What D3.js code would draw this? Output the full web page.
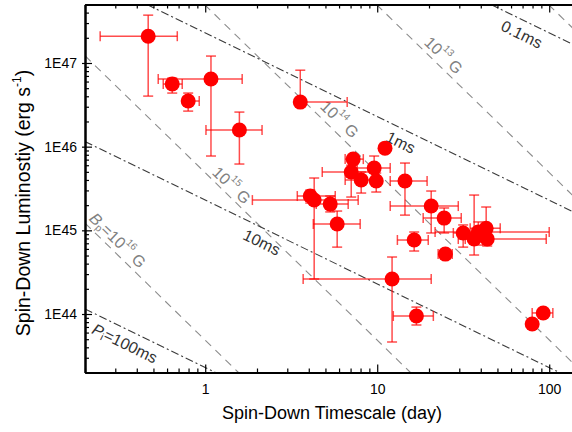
<!DOCTYPE html>
<html>
<head>
<meta charset="utf-8">
<script src="https://cdn.jsdelivr.net/npm/d3@7"></script>
<style>
body { margin: 0; background: #fff; }
svg { display: block; }
text { font-family: Arial, "Liberation Sans", sans-serif; }
</style>
</head>
<body>
<svg id="chart" width="572" height="432"></svg>
<script>
// spin-down timescale (day) with its error range
var timescale = [0.466, 0.643, 0.796, 1.08, 1.58, 3.57, 11.1, 7.25, 9.6, 7.06, 8.07, 9.87, 14.5, 4.08, 4.30,
	5.33, 5.85, 20.6, 24.5, 16.4, 24.9, 31.6, 36.6, 38.7, 43.0, 43.6, 12.2, 16.9, 79.6, 92.3];
var timeLow = [0.245, 0.570, 0.745, 0.533, 1.01, null, null, 6.51, 7.65, 4.79, 6.51, null, 11.9, 3.43, 1.88,
	4.42, 4.25, 11.9, 18.5, 13.1, 22.6, 27.7, 29.6, 21.7, 34.7, 32.5, 3.71, 12.4, null, 79.6];
var timeHigh = [0.688, 0.735, 0.923, 1.64, 2.14, 6.69, null, 8.3, 11.9, 10.1, 10.0, null, 19.5, 5.7, 7.75,
	6.78, 7.96, 29.6, 30.8, 19.8, 27.3, 35.7, 45.4, 100, 51.9, 96.1, 20.6, 21.2, null, 105];

// spin-down luminosity (erg/s) with its error range
var lum = [2.09e47, 5.6e46, 3.51e46, 6.43e46, 1.58e46, 3.41e46, 9.6e45, 7.1e45, 5.55e45, 4.98e45, 3.99e45, 3.88e45, 3.88e45, 2.57e45, 2.3e45,
	2.06e45, 1.19e45, 1.95e45, 1.40e45, 7.66e44, 5.2e44, 9.3e44, 7.87e44, 9.55e44, 1.06e45, 7.87e44, 2.62e44, 9.46e43, 7.6e43, 1.03e44];
var lumLow = [4.02e46, 4.37e46, 2.66e46, 7.73e45, 6.2e45, null, null, null, 4.1e45, 2.5e45, 2.79e45, 2.87e45, 1.52e45, 2.12e45, 2.62e44,
	1.66e45, 6.3e44, 9.3e44, 9.3e44, 5.66e44, null, 6.3e44, 5.07e44, 6.67e44, 7.66e44, 6.5e44, 4.63e43, 7.39e43, null, null];
var lumHigh = [3.73e47, 6.6e46, 4.37e46, 1.21e47, 2.59e46, 8.2e46, null, null, 7.73e45, 6.0e45, 4.98e45, 4.84e45, 6.37e45, 3.03e45, 4.22e45,
	2.57e45, 1.70e45, 2.95e45, 1.85e45, 9.55e44, null, 1.16e45, 2.64e45, 1.26e45, 1.9e45, 9.55e44, 4.8e44, 1.21e44, null, null];

var xTickValues = [1, 10, 100];
var xTickLabels = ['1', '10', '100'];
var yTickValues = [1e44, 1e45, 1e46, 1e47];
var yTickLabels = ['1E44', '1E45', '1E46', '1E47'];

// constant initial period lines (dash-dot), ends
var periodNames = ['0.1ms', '1ms', '10ms', '100ms'];
var periodT = [[45.8, 150], [0.458, 150], [0.2, 114.6], [0.2, 1.146]];
var periodL = [[5e47, 1.53e47], [5e47, 1.53e45], [1.15e46, 2e43], [1.15e44, 2e43]];

// constant field lines (dashed)
var fieldNames = ['1e12', '1e13', '1e14', '1e15', '1e16'];
var fieldT = [[99, 150], [9.9, 150], [0.99, 150], [0.2, 15.6], [0.2, 1.56]];
var fieldL = [[5e47, 2.18e47], [5e47, 2.18e45], [5e47, 2.18e43], [1.22e47, 2e43], [1.22e45, 2e43]];

(function() {
	var svg = d3.select('#chart');
	var plotLeft = 85, plotRight = 579.5, plotTop = 4.5, plotBottom = 372.5;

	var x = d3.scaleLog().domain([0.2, 150]).range([plotLeft, plotRight]);
	var y = d3.scaleLog().domain([2e43, 5e47]).range([plotBottom, plotTop]);

	svg.append('defs').append('clipPath').attr('id', 'plot')
		.append('rect').attr('x', plotLeft).attr('y', plotTop)
		.attr('width', plotRight - plotLeft).attr('height', plotBottom - plotTop);

	var lines = svg.append('g').attr('clip-path', 'url(#plot)');
	var line = d3.line().x(function(d) { return x(d[0]); }).y(function(d) { return y(d[1]); });

	fieldNames.forEach(function(name, i) {
		lines.append('path')
			.attr('d', line(d3.zip(fieldT[i], fieldL[i])))
			.attr('fill', 'none')
			.attr('stroke', '#8c8c8c')
			.attr('stroke-width', 1.1)
			.attr('stroke-dasharray', '8,6');
	});
	periodNames.forEach(function(name, i) {
		lines.append('path')
			.attr('d', line(d3.zip(periodT[i], periodL[i])))
			.attr('fill', 'none')
			.attr('stroke', '#3a3a3a')
			.attr('stroke-width', 1.1)
			.attr('stroke-dasharray', '8,3,2,3');
	});

	// labels along the lines
	function label(cx, cy, angle, color, parts) {
		var t = svg.append('text')
			.attr('transform', 'translate(' + cx + ',' + cy + ') rotate(' + angle + ')')
			.attr('text-anchor', 'middle')
			.attr('dominant-baseline', 'central')
			.attr('font-size', 16)
			.attr('fill', color);
		parts.forEach(function(p) {
			var s = t.append('tspan').text(p.t);
			if (p.sup) s.attr('font-size', 10).attr('dy', -7);
			if (p.sub) s.attr('font-size', 10).attr('dy', 4);
			if (p.back) s.attr('dy', p.back);
			if (p.it) s.attr('font-style', 'italic');
		});
	}
	label(522, 34, 26, '#333', [{t: '0.1ms'}]);
	label(401, 142, 26, '#333', [{t: '1ms'}]);
	label(262, 242, 26, '#333', [{t: '10ms'}]);
	label(125, 343, 26, '#333', [{t: 'P', it: true}, {t: 'i', sub: true}, {t: '=100ms', back: -4}]);
	label(444, 55, 44, '#808080', [{t: '10'}, {t: '13', sup: true}, {t: ' G', back: 7}]);
	label(340, 119, 44, '#808080', [{t: '10'}, {t: '14', sup: true}, {t: ' G', back: 7}]);
	label(232, 185, 44, '#808080', [{t: '10'}, {t: '15', sup: true}, {t: ' G', back: 7}]);
	label(118, 240, 44, '#808080', [{t: 'B', it: true}, {t: 'p', sub: true}, {t: '=10', back: -4}, {t: '16', sup: true}, {t: ' G', back: 7}]);

	// error bars then markers
	var pts = d3.range(timescale.length);
	var bars = svg.append('g')
		.attr('stroke', '#ff0000')
		.attr('stroke-opacity', 0.7)
		.attr('stroke-width', 1.5);
	var cap = 5;
	pts.forEach(function(i) {
		var cx = x(timescale[i]), cy = y(lum[i]);
		var x0 = timeLow[i] ? x(timeLow[i]) : cx, x1 = timeHigh[i] ? x(timeHigh[i]) : cx;
		var y0 = lumHigh[i] ? y(lumHigh[i]) : cy, y1 = lumLow[i] ? y(lumLow[i]) : cy;
		if (x0 !== x1) {
			bars.append('line').attr('x1', x0).attr('x2', x1).attr('y1', cy).attr('y2', cy);
			if (timeLow[i]) bars.append('line').attr('x1', x0).attr('x2', x0).attr('y1', cy - cap).attr('y2', cy + cap);
			if (timeHigh[i]) bars.append('line').attr('x1', x1).attr('x2', x1).attr('y1', cy - cap).attr('y2', cy + cap);
		}
		if (y0 !== y1) {
			bars.append('line').attr('x1', cx).attr('x2', cx).attr('y1', y0).attr('y2', y1);
			if (lumHigh[i]) bars.append('line').attr('x1', cx - cap).attr('x2', cx + cap).attr('y1', y0).attr('y2', y0);
			if (lumLow[i]) bars.append('line').attr('x1', cx - cap).attr('x2', cx + cap).attr('y1', y1).attr('y2', y1);
		}
	});
	svg.append('g').selectAll('circle').data(pts).enter().append('circle')
		.attr('cx', function(i) { return x(timescale[i]); })
		.attr('cy', function(i) { return y(lum[i]); })
		.attr('r', 7.5)
		.attr('fill', '#ff0000');

	// axes: log minor ticks inside, majors longer
	var xMinor = x.ticks().filter(function(v) { return xTickValues.indexOf(v) < 0; });
	var yMinor = y.ticks().filter(function(v) { return yTickValues.indexOf(v) < 0; });

	function styleAxis(g) {
		g.select('.domain').attr('stroke-width', 2);
		g.selectAll('.tick line').attr('stroke-width', 1.2);
		g.selectAll('text').attr('font-size', 14).attr('fill', '#000');
	}

	svg.append('g').attr('transform', 'translate(0,' + plotBottom + ')')
		.call(d3.axisBottom(x).tickValues(xMinor).tickSize(-4).tickSizeOuter(0).tickFormat(''))
		.call(styleAxis);
	svg.append('g').attr('transform', 'translate(0,' + plotBottom + ')')
		.call(d3.axisBottom(x).tickValues(xTickValues).tickSize(-8).tickSizeOuter(0).tickPadding(12)
			.tickFormat(function(d, i) { return xTickLabels[i]; }))
		.call(styleAxis);
	svg.append('g').attr('transform', 'translate(0,' + plotTop + ')')
		.call(d3.axisTop(x).tickValues(xMinor).tickSize(-4).tickSizeOuter(0).tickFormat(''))
		.call(styleAxis);
	svg.append('g').attr('transform', 'translate(0,' + plotTop + ')')
		.call(d3.axisTop(x).tickValues(xTickValues).tickSize(-8).tickSizeOuter(0).tickFormat(''))
		.call(styleAxis);
	svg.append('g').attr('transform', 'translate(' + plotLeft + ',0)')
		.call(d3.axisLeft(y).tickValues(yMinor).tickSize(-4).tickSizeOuter(0).tickFormat(''))
		.call(styleAxis);
	var yMajor = svg.append('g').attr('transform', 'translate(' + plotLeft + ',0)')
		.call(d3.axisLeft(y).tickValues(yTickValues).tickSize(-7).tickSizeOuter(0).tickPadding(8)
			.tickFormat(function(d, i) { return yTickLabels[i]; }))
		.call(styleAxis);
	yMajor.selectAll('.tick line').attr('x1', -3);

	// axis titles
	svg.append('text')
		.attr('x', 332).attr('y', 419)
		.attr('text-anchor', 'middle')
		.attr('font-size', 18)
		.text('Spin-Down Timescale (day)');
	var yt = svg.append('text')
		.attr('transform', 'translate(30,203) rotate(-90)')
		.attr('text-anchor', 'middle')
		.attr('font-size', 19.5);
	yt.append('tspan').text('Spin-Down Luminostiy (erg s');
	yt.append('tspan').attr('font-size', 12).attr('dy', -9).text('-1');
	yt.append('tspan').attr('dy', 9).text(')');
})();
</script>
</body>
</html>
